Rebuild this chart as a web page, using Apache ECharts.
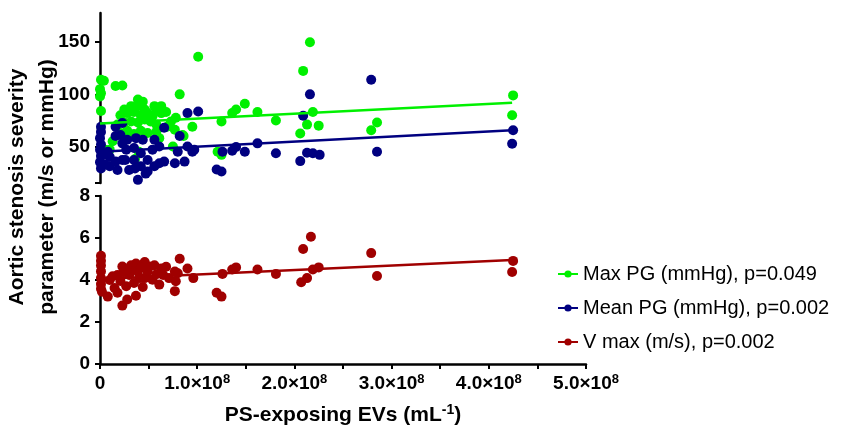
<!DOCTYPE html>
<html>
<head>
<meta charset="utf-8">
<script src="https://cdn.jsdelivr.net/npm/echarts@6/dist/echarts.min.js"></script>
<style>
html, body { margin: 0; padding: 0; background: #fff; }
#chart { width: 842px; height: 427px; }
</style>
</head>
<body>
<div id="chart"></div>
<script>
// x values are PS-exposing EVs in units of 1e8 per mL
const maxPgX = [0.01, 0.04, 0.00, 0.01, 0.00, 0.01, 0.06, 0.16, 0.23, 0.82, 1.01, 0.39, 0.44,
  0.25, 0.32, 0.39, 0.46, 0.56, 0.63, 0.58, 0.21, 0.28, 0.35, 0.42, 0.49, 0.54, 0.63, 0.68,
  0.18, 0.25, 0.32, 0.39, 0.46, 0.52, 0.58, 0.21, 0.28, 0.35, 0.42, 0.49, 0.58,
  0.73, 0.69, 0.77, 0.85, 0.95, 0.78, 0.61, 0.13, 0.10, 0.05, 0.36, 0.40, 0.86, 0.75,
  1.25, 1.36, 1.40, 1.49, 1.62, 1.81, 1.25, 1.21, 2.16, 2.09, 2.19, 2.13, 2.25, 2.06,
  2.79, 2.85, 4.25, 4.24]
const maxPgY = [114, 113, 105, 101, 98, 84, 43, 108, 108.5, 100, 136, 95, 93,
  85.5, 88.7, 88.7, 85.5, 88.7, 88.7, 84, 80, 82, 83, 80, 82, 79, 82, 83,
  71, 73, 74, 73, 76, 74, 71, 63, 65, 62, 65, 63, 64,
  74, 69, 66, 61, 69, 77.5, 58, 55, 47, 47, 38, 45, 60, 50,
  74, 82, 85.5, 91, 83, 75, 42, 45, 150, 122.5, 83, 71, 70, 62.5,
  65.5, 73, 99, 80]

const meanPgX = [0.01, 0.01, 0.00, 0.01, 0.00, 0.01, 0.00, 0.01, 0.16, 0.23, 0.21, 0.16, 0.23,
  0.10, 0.10, 0.18, 0.39, 0.47, 0.49, 0.36, 0.26, 0.28, 0.37, 0.44, 0.56, 0.61,
  0.27, 0.35, 0.42, 0.49, 0.54, 0.35, 0.42, 0.56, 0.16, 0.23, 0.30, 0.05, 0.08,
  0.66, 0.82, 0.90, 1.01, 0.77, 0.87, 0.95, 0.80, 0.90, 0.97, 0.61, 0.66,
  1.20, 1.25, 1.26, 1.36, 1.40, 1.49, 1.62, 1.81, 2.16, 2.09, 2.06, 2.13, 2.19, 2.26,
  2.79, 2.85, 4.25, 4.24]
const meanPgY = [69, 64, 58, 52, 47, 41, 35, 29, 69, 72.6, 61, 60, 53,
  31, 40, 27.5, 18, 24, 26, 29, 37, 56.5, 58, 56.5, 56.5, 50,
  47, 48.5, 43.6, 37, 47, 37, 31, 31, 35.5, 37, 27.5, 33, 45,
  68, 60, 82, 83.5, 34, 35.5, 45, 45, 50, 47, 34, 35.5,
  28, 26, 45, 46, 49.5, 45, 53, 43.5, 100, 79.5, 36, 44, 43.6, 42,
  114, 45, 65.5, 52.6]

const vmaxX = [0.01, 0.01, 0.01, 0.01, 0.01, 0.01, 0.01, 0.02, 0.08, 0.13, 0.15, 0.18, 0.21,
  0.23, 0.24, 0.23, 0.28, 0.27, 0.30, 0.32, 0.33, 0.37, 0.39, 0.37, 0.35, 0.41, 0.44,
  0.46, 0.46, 0.49, 0.51, 0.54, 0.56, 0.58, 0.61, 0.63, 0.65, 0.68, 0.71, 0.77, 0.78,
  0.77, 0.82, 0.80, 0.90, 0.96, 0.18, 0.28, 0.42, 0.10,
  1.20, 1.25, 1.26, 1.36, 1.40, 1.62, 1.81, 2.07, 2.13, 2.09, 2.17, 2.19, 2.25,
  2.79, 2.85, 4.25, 4.24]
const vmaxY = [5.15, 4.92, 4.69, 4.41, 4.09, 3.81, 3.58, 3.44, 3.21, 4.18, 3.62, 3.39, 3.95,
  4.64, 4.37, 2.78, 3.07, 3.70, 4.24, 4.70, 4.50, 4.78, 4.40, 3.25, 3.86, 4.09, 3.67,
  4.86, 4.09, 4.40, 4.64, 4.01, 4.70, 4.27, 3.78, 4.55, 4.24, 4.63, 4.09, 4.40, 3.94,
  3.47, 5.01, 4.32, 4.55, 4.09, 4.24, 4.50, 4.60, 4.00,
  3.39, 3.21, 4.29, 4.50, 4.60, 4.50, 4.29, 3.89, 4.09, 5.48, 6.06, 4.50, 4.60,
  5.28, 4.19, 4.91, 4.38]

// regression line end points
const trendX = [0, 4.24]
const maxPgTrend = [72, 92]
const meanPgTrend = [45, 65.5]
const vmaxTrend = [4.05, 4.95]

const legendNames = ['Max PG (mmHg), p=0.049', 'Mean PG (mmHg), p=0.002', 'V max (m/s), p=0.002']
const upperTicks = [50, 100, 150]

const colors = ['#00f000', '#000080', '#a00000']
const font = '"Liberation Sans", Arial, sans-serif'

const zip = (xs, ys) => xs.map((x, i) => [x, ys[i]])

const axisLine = { show: true, onZero: false, lineStyle: { color: '#000', width: 2.5 } }
const tick = { show: true, length: 5, lineStyle: { color: '#000', width: 2 } }
const label = { color: '#000', fontSize: 19, fontWeight: 'bold', fontFamily: font }

function scatter (name, data, c, idx) {
  return {
    name: name,
    type: 'scatter',
    xAxisIndex: idx,
    yAxisIndex: idx,
    data: data,
    symbolSize: 10,
    itemStyle: { color: c, opacity: 1 }
  }
}

function trend (name, data, c, idx) {
  return {
    name: name,
    type: 'line',
    xAxisIndex: idx,
    yAxisIndex: idx,
    data: data,
    symbol: 'circle',
    symbolSize: 9,
    showSymbol: false,
    lineStyle: { color: c, width: 2.5 },
    itemStyle: { color: c },
    z: 3
  }
}

const chart = echarts.init(document.getElementById('chart'))
const option = {
  animation: false,
  grid: [
    { left: 100, top: 13, width: 486, height: 170 },
    { left: 100, top: 196, width: 486, height: 172 }
  ],
  xAxis: [
    { gridIndex: 0, type: 'value', min: 0, max: 5, show: false },
    {
      gridIndex: 1,
      type: 'value',
      min: 0,
      max: 5,
      interval: 1,
      axisLine: axisLine,
      axisTick: tick,
      minorTick: { show: true, splitNumber: 2, length: 5, lineStyle: { color: '#000', width: 2 } },
      splitLine: { show: false },
      axisLabel: {
        margin: 9,
        formatter: v => v === 0 ? '{b|0}' : '{b|' + v.toFixed(1) + '×10}{s|8}',
        rich: {
          b: { color: '#000', fontSize: 19, fontWeight: 'bold', fontFamily: font, lineHeight: 22 },
          s: { color: '#000', fontSize: 13, fontWeight: 'bold', fontFamily: font, verticalAlign: 'top', lineHeight: 22, padding: [0, 0, 8, 0] }
        }
      },
      name: '{t|PS-exposing EVs (mL}{s|-1}{t|)}',
      nameLocation: 'middle',
      nameGap: 39,
      nameTextStyle: {
        rich: {
          t: { color: '#000', fontSize: 21, fontWeight: 'bold', fontFamily: font, lineHeight: 24 },
          s: { color: '#000', fontSize: 14, fontWeight: 'bold', fontFamily: font, verticalAlign: 'top', lineHeight: 24, padding: [0, 0, 9, 0] }
        }
      }
    }
  ],
  yAxis: [
    {
      gridIndex: 0,
      type: 'value',
      min: 15,
      max: 178,
      axisLine: axisLine,
      axisTick: Object.assign({ customValues: upperTicks.concat([15]) }, tick),
      splitLine: { show: false },
      axisLabel: Object.assign({ customValues: upperTicks, margin: 10 }, label)
    },
    {
      gridIndex: 1,
      type: 'value',
      min: 0,
      max: 8,
      interval: 2,
      axisLine: axisLine,
      axisTick: tick,
      splitLine: { show: false },
      axisLabel: Object.assign({ margin: 10 }, label)
    }
  ],
  legend: {
    data: legendNames,
    orient: 'vertical',
    left: 552,
    top: 259,
    itemWidth: 20,
    itemHeight: 9,
    itemGap: 14,
    textStyle: { color: '#000', fontSize: 20, fontFamily: font }
  },
  graphic: [
    {
      type: 'text',
      x: 32,
      y: 187,
      rotation: Math.PI / 2,
      style: {
        text: 'Aortic stenosis severity\nparameter (m/s or mmHg)',
        font: 'bold 21px "Liberation Sans", Arial, sans-serif',
        align: 'center',
        verticalAlign: 'middle',
        lineHeight: 30,
        fill: '#000'
      }
    }
  ],
  series: [
    scatter('maxPg', zip(maxPgX, maxPgY), colors[0], 0),
    scatter('meanPg', zip(meanPgX, meanPgY), colors[1], 0),
    scatter('vmax', zip(vmaxX, vmaxY), colors[2], 1),
    trend(legendNames[0], zip(trendX, maxPgTrend), colors[0], 0),
    trend(legendNames[1], zip(trendX, meanPgTrend), colors[1], 0),
    trend(legendNames[2], zip(trendX, vmaxTrend), colors[2], 1)
  ]
}
chart.setOption(option)
</script>
</body>
</html>
